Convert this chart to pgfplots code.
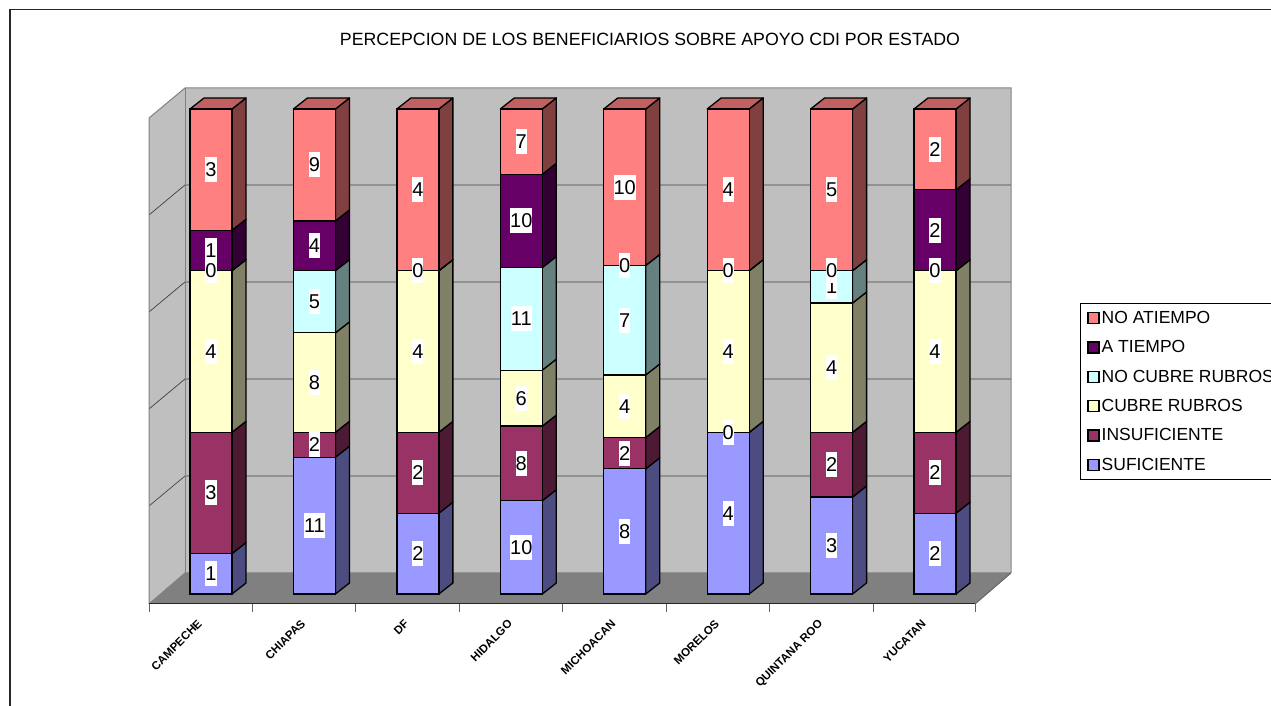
\documentclass[border=0pt]{standalone}
\usepackage{fontspec}
\setmainfont{Liberation Sans}
\usepackage{pgfplots}
\usepackage{pgfplotstable}
\pgfplotsset{compat=1.18}
\definecolor{cSUF}{HTML}{9999FF}\definecolor{sSUF}{HTML}{4C4C80}
\definecolor{cINS}{HTML}{993366}\definecolor{sINS}{HTML}{4D1A33}
\definecolor{cCUB}{HTML}{FFFFCC}\definecolor{sCUB}{HTML}{808066}
\definecolor{cNOC}{HTML}{CCFFFF}\definecolor{sNOC}{HTML}{668080}
\definecolor{cATI}{HTML}{660066}\definecolor{sATI}{HTML}{330033}
\definecolor{cNOA}{HTML}{FF8080}\definecolor{sNOA}{HTML}{804040}
\definecolor{tNOA}{HTML}{C06060}
\pgfplotstableread{
i SUF INS CUB NOC ATI NOA TOT
0 1 3 4 0 1 3 12
1 11 2 8 5 4 9 39
2 2 2 4 0 0 4 12
3 10 8 6 11 10 7 52
4 8 2 4 7 0 10 31
5 4 0 4 0 0 4 12
6 3 2 4 1 0 5 15
7 2 2 4 0 2 2 12
}\datatable
\pgfplotsset{
  common/.style={
    scale only axis, width=826pt, height=506pt,
    at={(149pt,102pt)}, anchor=south west,
    xmin=-0.5994, xmax=7.3866, ymin=-2.0619, ymax=102.268,
    clip=false,
    /pgf/number format/assume math mode=true,
  }
}
\newcommand\sideface[3]{%
  \pgfplotstablegetelem{#1}{#2}\of\datatable \let\myv\pgfplotsretval
  \pgfplotstablegetelem{#1}{TOT}\of\datatable \let\myt\pgfplotsretval
  \pgfmathsetmacro\ynew{\ycum+\myv/\myt*100}%
  \pgfmathsetmacro\xl{#1+0.20304}%
  \pgfmathsetmacro\xr{#1+0.33840}%
  \pgfmathsetmacro\ya{\ycum+2.268}%
  \pgfmathsetmacro\yb{\ynew+2.268}%
  \edef\tmp{\noexpand\addplot[fill=#3,draw=black,line width=1.3pt,line join=round,forget plot] coordinates {(\xl,\ycum)(\xr,\ya)(\xr,\yb)(\xl,\ynew)(\xl,\ycum)} -- cycle;}\tmp
  \global\let\ycum\ynew
}
\newcommand\barcol[1]{%
  \gdef\ycum{0}%
  \sideface{#1}{SUF}{sSUF}\sideface{#1}{INS}{sINS}\sideface{#1}{CUB}{sCUB}%
  \sideface{#1}{NOC}{sNOC}\sideface{#1}{ATI}{sATI}\sideface{#1}{NOA}{sNOA}%
  \pgfmathsetmacro\xa{#1-0.20304}\pgfmathsetmacro\xb{#1-0.06768}%
  \pgfmathsetmacro\xc{#1+0.20304}\pgfmathsetmacro\xd{#1+0.33840}%
  \edef\tmp{\noexpand\addplot[fill=tNOA,draw=black,line width=1.3pt,line join=round,forget plot] coordinates {(\xa,100)(\xb,102.268)(\xd,102.268)(\xc,100)(\xa,100)} -- cycle;}\tmp
}
\newcommand\seg[3]{%
  \addplot[fill=#2,draw=black,line width=1.3pt,
    nodes near coords,
    nodes near coords style={anchor=center,fill=white,text=black,
      inner sep=0pt,minimum width=11pt,minimum height=25pt,font=\fontsize{20}{20}\selectfont},
    point meta=explicit]
    table[x=i,y expr=\thisrow{#1}/\thisrow{TOT}*100,meta=#1]{\datatable};
  \addlegendentry{#3}
}
\begin{document}
\begin{tikzpicture}
\path[use as bounding box,clip] (0,0) rectangle (1271pt,706pt);
\begin{scope}[x=1pt,y=-1pt,yshift=706pt]
  % frame
  \draw[line width=1.1pt,black!85] (10,706) -- (10,9.5) -- (1271,9.5);
  \node[font=\fontsize{17.75}{20}\selectfont,text=black] at (650,39) {PERCEPCION DE LOS BENEFICIARIOS SOBRE APOYO CDI POR ESTADO};
  % walls
  \fill[black!25] (185,88) -- (1011,88) -- (1011,573) -- (185,573) -- cycle;
  \fill[black!25] (149,118) -- (185,88) -- (185,573) -- (149,604) -- cycle;
  \fill[black!50] (149,604) -- (975,604) -- (1011,573) -- (185,573) -- cycle;
  \foreach \y in {185,282,379,476}{
    \draw[line width=0.7pt,black!75] (149,\y+30) -- (185,\y) -- (1011,\y);
  }
  \draw[line width=1pt,black!50] (149,604) -- (149,118) -- (185,88) -- (1011,88) -- (1011,573);
  \draw[line width=1pt,black!50] (185,88) -- (185,573);
  \draw[line width=1pt,black!50] (149,604) -- (185,573) -- (1011,573);
  \draw[line width=1pt,black!60] (975,604) -- (1011,573);
\end{scope}
% side and top faces of the bars
\begin{axis}[common,hide axis,no markers]
  \barcol{0}\barcol{1}\barcol{2}\barcol{3}\barcol{4}\barcol{5}\barcol{6}\barcol{7}
\end{axis}
% front faces
\begin{axis}[common,
    ybar stacked, bar width=42pt, stacked ignores zero=false,
    reverse stacked plots=false,
    axis y line=none, axis x line*=bottom,
    axis line style={line width=1pt,black!85,-},
    xtick={-0.1,0.9,1.9,2.9,3.9,4.9,5.9,6.9},
    xticklabels={CAMPECHE,CHIAPAS,DF,HIDALGO,MICHOACAN,MORELOS,QUINTANA ROO,YUCATAN},
    minor xtick={-0.5994,0.4006,1.4006,2.4006,3.4006,4.4006,5.4006,6.4006,7.3866},
    tick align=outside, major tick length=0pt, minor tick length=8pt,
    minor tick style={line width=1pt,black!60},
    xticklabel style={rotate=45,anchor=north east,yshift=-4.4pt,xshift=-9.7pt,
      font=\bfseries\fontsize{11.5}{11.5}\selectfont},
    legend cell align=left, reverse legend,
    legend image code/.code={\draw[#1,line width=1.3pt] (0pt,-5.5pt) rectangle (11pt,5.5pt);},
    legend style={at={(axis description cs:1.1271,0.5949)},anchor=north west,
      draw=black,line width=0.8pt,fill=white,
      font=\fontsize{17.5}{17.5}\selectfont,row sep=11.6pt,
      inner xsep=7pt,inner ysep=6pt},
  ]
  \seg{SUF}{cSUF}{SUFICIENTE}
  \seg{INS}{cINS}{INSUFICIENTE}
  \seg{CUB}{cCUB}{CUBRE RUBROS}
  \seg{NOC}{cNOC}{NO CUBRE RUBROS}
  \seg{ATI}{cATI}{A TIEMPO}
  \seg{NOA}{cNOA}{NO ATIEMPO}
\end{axis}
\end{tikzpicture}
\end{document}
